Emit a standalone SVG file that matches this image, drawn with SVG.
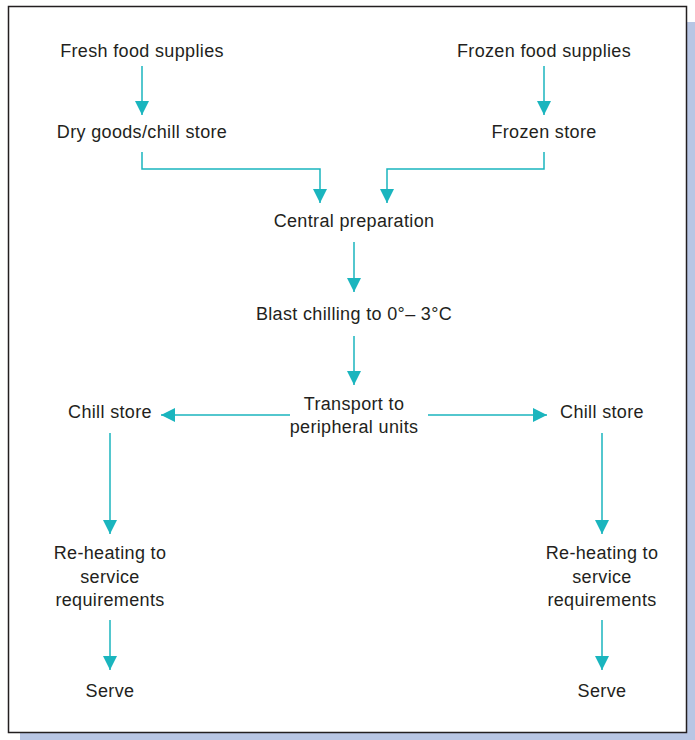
<svg xmlns="http://www.w3.org/2000/svg" width="695" height="740" viewBox="0 0 695 740">
<style>
text{font-family:"Liberation Sans",Arial,sans-serif;font-size:18px;letter-spacing:0.35px;fill:#231f20;text-anchor:middle}
.c{fill:none;stroke:#1ab5be;stroke-width:1.5}
</style>
<defs>
<marker id="ah" viewBox="0 0 14 14" refX="14" refY="7" markerWidth="14" markerHeight="14" markerUnits="userSpaceOnUse" orient="auto">
<path d="M0,0 L14,7 L0,14 Z" fill="#1ab5be"/>
</marker>
</defs>
<rect x="20" y="22" width="675" height="718" fill="#b8c6e4"/>
<rect x="8.5" y="6.5" width="678" height="726" fill="#fff" stroke="#231f20" stroke-width="1.5"/>
<g id="connectors">
<path class="c" d="M142,66 V115" marker-end="url(#ah)"/>
<path class="c" d="M544,66 V115" marker-end="url(#ah)"/>
<path class="c" d="M142,152 V169 H320 V203" marker-end="url(#ah)"/>
<path class="c" d="M544,152 V169 H387 V203" marker-end="url(#ah)"/>
<path class="c" d="M354,242 V292" marker-end="url(#ah)"/>
<path class="c" d="M354,336 V385" marker-end="url(#ah)"/>
<path class="c" d="M290,415 H161" marker-end="url(#ah)"/>
<path class="c" d="M428,415 H547" marker-end="url(#ah)"/>
<path class="c" d="M110,433 V534" marker-end="url(#ah)"/>
<path class="c" d="M602,433 V534" marker-end="url(#ah)"/>
<path class="c" d="M110,620 V670" marker-end="url(#ah)"/>
<path class="c" d="M602,620 V670" marker-end="url(#ah)"/>
</g>
<g id="fresh"><text x="142" y="57">Fresh food supplies</text></g>
<g id="frozen"><text x="544" y="57">Frozen food supplies</text></g>
<g id="dry"><text x="142" y="138">Dry goods/chill store</text></g>
<g id="frozenstore"><text x="544" y="138">Frozen store</text></g>
<g id="central"><text x="354" y="227">Central preparation</text></g>
<g id="blast"><text x="354" y="320">Blast chilling to 0°– 3°C</text></g>
<g id="transport"><text x="354" y="410">Transport to</text><text x="354" y="433">peripheral units</text></g>
<g id="chillL"><text x="110" y="418">Chill store</text></g>
<g id="chillR"><text x="602" y="418">Chill store</text></g>
<g id="reheatL"><text x="110" y="559">Re-heating to</text><text x="110" y="583">service</text><text x="110" y="606">requirements</text></g>
<g id="reheatR"><text x="602" y="559">Re-heating to</text><text x="602" y="583">service</text><text x="602" y="606">requirements</text></g>
<g id="serveL"><text x="110" y="697">Serve</text></g>
<g id="serveR"><text x="602" y="697">Serve</text></g>
</svg>
